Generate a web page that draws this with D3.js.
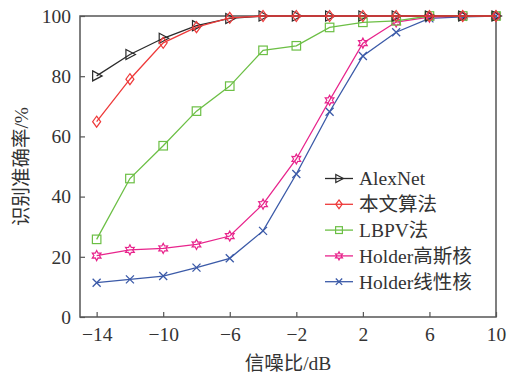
<!DOCTYPE html>
<html>
<head>
<meta charset="utf-8">
<script src="https://cdn.jsdelivr.net/npm/d3@7"></script>
<style>
  body { margin: 0; background: #fff; }
  svg text { fill: #333; }
</style>
</head>
<body>
<svg id="chart"></svg>
<script>
const snr = [-14, -12, -10, -8, -6, -4, -2, 0, 2, 4, 6, 8, 10];
const xTicks = [-14, -10, -6, -2, 2, 6, 10];
const yTicks = [0, 20, 40, 60, 80, 100];

const alexnet = [80.1, 87.2, 92.6, 96.8, 99.2, 100, 100, 100, 100, 100, 100, 100, 100];
const ours = [64.9, 79, 91.1, 96.3, 99.4, 100, 100, 100, 100, 100, 100, 100, 100];
const lbpv = [25.8, 46, 56.9, 68.4, 76.7, 88.6, 90.1, 96.2, 97.9, 98.4, 100, 100, 100];
const holderGauss = [20.4, 22.3, 22.8, 24.1, 26.9, 37.5, 52.5, 72, 91, 98, 99.6, 100, 100];
const holderLinear = [11.4, 12.5, 13.6, 16.4, 19.5, 28.6, 47.5, 68.2, 86.7, 94.6, 99.2, 99.7, 100];

const seriesNames = ["AlexNet", "本文算法", "LBPV法", "Holder高斯核", "Holder线性核"];
const seriesValues = [alexnet, ours, lbpv, holderGauss, holderLinear];
const colors = ["#2b2b2b", "#ee3a3a", "#6cbf45", "#e8248c", "#3b5aa8"];
const markers = ["tri", "diamond", "square", "star", "cross"];

const FONT = "'Liberation Serif', 'Times New Roman', 'DejaVu Serif', 'Noto Sans CJK SC', serif";
const FS = 19.5;

const width = 507, height = 376;
const margin = {left: 80, right: 11, top: 16, bottom: 59};

const svg = d3.select("#chart")
    .attr("width", width)
    .attr("height", height);

const x = d3.scaleLinear().domain([-15, 10]).range([margin.left, width - margin.right]);
const y = d3.scaleLinear().domain([0, 100]).range([height - margin.bottom, margin.top]);

// frame
svg.append("rect")
    .attr("x", x(-15)).attr("y", y(100))
    .attr("width", x(10) - x(-15)).attr("height", y(0) - y(100))
    .attr("fill", "none").attr("stroke", "#555").attr("stroke-width", 1.5);

const xAxis = svg.append("g")
    .attr("transform", `translate(0,${y(0)})`)
    .call(d3.axisBottom(x).tickValues(xTicks).tickSizeInner(-5).tickSizeOuter(0).tickPadding(9)
        .tickFormat(d => d < 0 ? "\u2212" + Math.abs(d) : d));
xAxis.attr("font-family", FONT);
xAxis.select(".domain").remove();
xAxis.selectAll("line").attr("stroke", "#555").attr("stroke-width", 1.2);
xAxis.selectAll("text").attr("font-size", FS).attr("dy", "0.75em");

const yAxis = svg.append("g")
    .attr("transform", `translate(${x(-15)},0)`)
    .call(d3.axisLeft(y).tickValues(yTicks).tickSizeInner(-5).tickSizeOuter(0).tickPadding(9));
yAxis.attr("font-family", FONT);
yAxis.select(".domain").remove();
yAxis.selectAll("line").attr("stroke", "#555").attr("stroke-width", 1.2);
yAxis.selectAll("text").attr("font-size", FS);

svg.append("text")
    .attr("x", x(-2.5)).attr("y", 370)
    .attr("text-anchor", "middle").attr("font-size", FS).attr("font-family", FONT)
    .text("信噪比/dB");

svg.append("text")
    .attr("transform", `translate(28,${y(50)}) rotate(-90)`)
    .attr("text-anchor", "middle").attr("font-size", FS).attr("font-family", FONT)
    .text("识别准确率/%");

function drawMarker(g, type, color, size) {
    const s = size / 2;
    if (type === "tri") {
        g.append("path").attr("d", `M${-s * 0.8},${-s}L${s * 1.1},0L${-s * 0.8},${s}Z`)
            .attr("fill", "none").attr("stroke", color).attr("stroke-width", 1.2);
    } else if (type === "diamond") {
        g.append("path").attr("d", `M0,${-s * 1.1}L${s * 0.8},0L0,${s * 1.1}L${-s * 0.8},0Z`)
            .attr("fill", "none").attr("stroke", color).attr("stroke-width", 1.2);
    } else if (type === "square") {
        g.append("rect").attr("x", -s * 0.85).attr("y", -s * 0.85)
            .attr("width", s * 1.7).attr("height", s * 1.7)
            .attr("fill", "none").attr("stroke", color).attr("stroke-width", 1.2);
    } else if (type === "star") {
        const r1 = s, r2 = s * 0.55;
        const pts = d3.range(12).map(i => {
            const a = Math.PI / 6 * i - Math.PI / 2;
            const r = i % 2 === 0 ? r1 : r2;
            return [r * Math.cos(a), r * Math.sin(a)];
        });
        g.append("path").attr("d", "M" + pts.join("L") + "Z")
            .attr("fill", "none").attr("stroke", color).attr("stroke-width", 1.2);
    } else if (type === "cross") {
        const c = s * 0.8;
        g.append("path").attr("d", `M${-c},${-c}L${c},${c}M${-c},${c}L${c},${-c}`)
            .attr("stroke", color).attr("stroke-width", 1.3);
    }
}

const line = d3.line().x((d, i) => x(snr[i])).y(d => y(d));

// draw from back to front so AlexNet / ours sit on top
const order = [4, 3, 2, 0, 1];
order.forEach(k => {
    const g = svg.append("g");
    g.append("path").datum(seriesValues[k])
        .attr("d", line).attr("fill", "none")
        .attr("stroke", colors[k]).attr("stroke-width", 1.3);
    seriesValues[k].forEach((v, i) => {
        const m = g.append("g").attr("transform", `translate(${x(snr[i])},${y(v)})`);
        drawMarker(m, markers[k], colors[k], 10);
    });
});

// legend
const legend = svg.append("g").attr("font-family", FONT);
seriesNames.forEach((name, k) => {
    const ly = 178.5 + k * 25.8;
    const row = legend.append("g").attr("transform", `translate(0,${ly})`);
    row.append("line").attr("x1", 325).attr("x2", 353).attr("y1", 0).attr("y2", 0)
        .attr("stroke", colors[k]).attr("stroke-width", 1.3);
    const m = row.append("g").attr("transform", "translate(339,0)");
    drawMarker(m, markers[k], colors[k], 8);
    row.append("text").attr("x", 359).attr("y", 0).attr("dy", "0.35em")
        .attr("font-size", FS).text(name);
});
</script>
</body>
</html>
